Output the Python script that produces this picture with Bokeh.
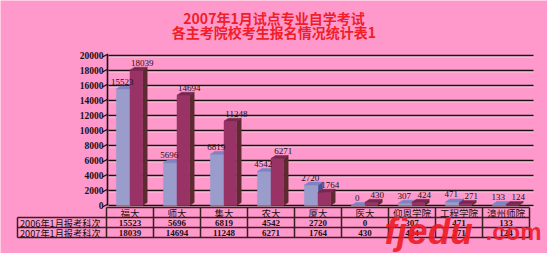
from bokeh.plotting import figure
from bokeh.embed import file_html
from bokeh.resources import INLINE
from bokeh.core.properties import value

# ---------------- data ----------------
title_lines = ["2007年1月试点专业自学考试", "各主考院校考生报名情况统计表1"]
categories = ["福大", "师大", "集大", "农大", "厦大", "医大", "仰恩学院", "工程学院", "漳州师院"]
series_names = ["2006年1月报考科次", "2007年1月报考科次"]
values_2006 = [15523, 5696, 6819, 4542, 2720, 0, 307, 471, 133]
values_2007 = [18039, 14694, 11248, 6271, 1764, 430, 424, 271, 124]
y_ticks = [0, 2000, 4000, 6000, 8000, 10000, 12000, 14000, 16000, 18000, 20000]
watermark_parts = ["fjedu", ".com"]

# ---------------- layout (pixel helpers) ----------------
W, H = 547, 253
X_ORIGIN = 106.0     # px of category axis start
COL_W = 47.0         # px per category
Y_ZERO = 205.0       # px of value 0
PX_PER_VAL = 150.0 / 20000.0


def X(px):
    return (px - X_ORIGIN) / COL_W


def Y(py):
    return (Y_ZERO - py) / PX_PER_VAL


PINK = "#ff99cc"
INK = "#1a1010"
p = figure(width=W, height=H, x_range=(X(0), X(W)), y_range=(Y(H), Y(0)),
           output_backend="svg", toolbar_location=None, min_border=0,
           background_fill_color=PINK, border_fill_color=PINK)
p.axis.visible = False
p.grid.visible = False
p.outline_line_color = None

n = len(categories)
DX = 4.5 / COL_W          # depth offset in x
DY = 3.0 / PX_PER_VAL     # depth offset in y

# ---------------- gridlines / axis ----------------
p.segment(x0=[X(108)] * len(y_ticks), x1=[X(533)] * len(y_ticks),
          y0=[t - 1.3 / PX_PER_VAL for t in y_ticks], y1=[t - 1.3 / PX_PER_VAL for t in y_ticks],
          line_color="#ffe0f0", line_width=1)
p.segment(x0=[X(108)] * len(y_ticks), x1=[X(533)] * len(y_ticks),
          y0=y_ticks, y1=y_ticks, line_color=INK, line_width=1.5)
p.segment(x0=[X(107)], x1=[X(107)], y0=[0], y1=[y_ticks[-1] + 1.0 / PX_PER_VAL],
          line_color=INK, line_width=1.6)
p.segment(x0=[X(102)] * len(y_ticks), x1=[X(107.5)] * len(y_ticks),
          y0=[t - 1.5 / PX_PER_VAL for t in y_ticks], y1=[t + 1.5 / PX_PER_VAL for t in y_ticks],
          line_color=INK, line_width=1.3)
p.text(x=[X(103)] * len(y_ticks), y=y_ticks, text=[str(t) for t in y_ticks],
       text_align="right", text_baseline="middle", text_font=value("Liberation Serif"),
       text_font_size="9.5px", text_font_style="bold", text_color=INK)


# ---------------- 3D bars ----------------
def bar_geom(left_off, width):
    lefts = [i + 0.5 + left_off for i in range(n)]
    rights = [l + width for l in lefts]
    return lefts, rights


def bars3d(vals, lefts, rights, front, top, side):
    p.patches(xs=[[r, r, r + DX, r + DX] for r in rights],
              ys=[[0, v, v + DY, DY] for v in vals],
              fill_color=side, line_color=side, line_width=0.5)
    p.quad(left=lefts, right=rights, bottom=[0] * n, top=vals,
           fill_color=front, line_color=front, line_width=0.5)
    p.patches(xs=[[l, l + DX, r + DX, r] for l, r in zip(lefts, rights)],
              ys=[[v, v + DY, v + DY, v] for v in vals],
              fill_color=top, line_color=top, line_width=0.5)


def bar_labels(vals, lefts, rights, shift_px):
    p.text(x=[(l + r) / 2 + shift_px / COL_W for l, r in zip(lefts, rights)],
           y=[v + DY + 1.5 / PX_PER_VAL for v in vals], text=[str(v) for v in vals],
           text_align="center", text_baseline="bottom", text_font=value("Liberation Serif"),
           text_font_size="9px", text_color=INK)


l6, r6 = bar_geom(-0.29, 0.29)
l7, r7 = bar_geom(0.0, 0.27)
bars3d(values_2006, l6, r6, "#9a9ccc", "#7f83c4", "#4a4f9a")
bars3d(values_2007, l7, r7, "#993366", "#7a2750", "#5c2a30")
bar_labels(values_2006, l6, r6, -1.0)
bar_labels(values_2007, l7, r7, 6.0)

# ---------------- data table ----------------
T0, T1, T2, T3 = 207, 217, 227, 237
TL = 17
TR = X_ORIGIN + n * COL_W
hx0 = [X(X_ORIGIN), X(TL), X(TL), X(TL)]
hx1 = [X(TR)] * 4
hy = [Y(T0), Y(T1), Y(T2), Y(T3)]
p.segment(x0=hx0, x1=hx1, y0=hy, y1=hy, line_color="#3a1f1f", line_width=1.5)
p.segment(x0=list(range(n + 1)), x1=list(range(n + 1)), y0=[Y(T0)] * (n + 1), y1=[Y(T3)] * (n + 1),
          line_color="#3a1f1f", line_width=1.5)
p.segment(x0=[X(TL)], x1=[X(TL)], y0=[Y(T1)], y1=[Y(T3)], line_color="#3a1f1f", line_width=1.5)

p.text(x=[i + 0.5 for i in range(n)], y=[Y((T0 + T1) / 2 + 0.5)] * n, text=categories,
       text_align="center", text_baseline="middle", text_font=value("Noto Sans CJK SC"),
       text_font_size="9.5px", text_color=INK)
p.text(x=[X(TL + 2.5)] * 2, y=[Y((T1 + T2) / 2 + 0.5), Y((T2 + T3) / 2 + 0.5)], text=series_names,
       text_align="left", text_baseline="middle", text_font=value("Noto Sans CJK SC"),
       text_font_size="9.2px", text_color=INK)
for vals, (ya, yb) in ((values_2006, (T1, T2)), (values_2007, (T2, T3))):
    p.text(x=[i + 0.5 for i in range(n)], y=[Y((ya + yb) / 2 + 0.5)] * n, text=[str(v) for v in vals],
           text_align="center", text_baseline="middle", text_font=value("Liberation Serif"),
           text_font_size="9px", text_font_style="bold", text_color=INK)

# ---------------- watermark ----------------
p.text(x=[X(384)], y=[Y(231)], text=[watermark_parts[0]], text_align="left", text_baseline="alphabetic",
       text_font=value("Liberation Sans"), text_font_size="37px", text_font_style="bold italic",
       text_color="#ee1c25", text_alpha=0.92)
p.text(x=[X(485)], y=[Y(231)], text=[watermark_parts[1]], text_align="left", text_baseline="alphabetic",
       text_font=value("Liberation Sans"), text_font_size="24px", text_font_style="bold",
       text_color="#ee1c25", text_alpha=0.92)

# ---------------- title ----------------
p.text(x=[X(273.5)] * 2, y=[Y(17.5), Y(31)], text=title_lines,
       text_align="center", text_baseline="middle", text_font=value("Noto Sans CJK SC"),
       text_font_size="14px", text_font_style="bold", text_color="#f01e28")

open("out.html", "w").write(file_html(p, INLINE))
